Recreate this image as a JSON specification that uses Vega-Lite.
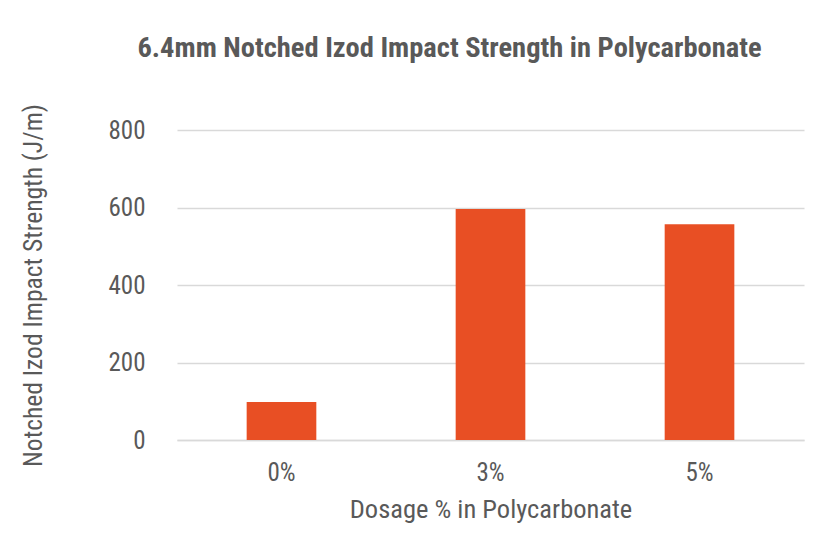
{
  "$schema": "https://vega.github.io/schema/vega-lite/v6.json",
  "autosize": {"type": "none"},
  "width": 627,
  "height": 310,
  "padding": {"left": 177, "top": 130, "right": 13, "bottom": 95},
  "background": "#ffffff",
  "config": {
    "font": "'Roboto Condensed', 'Liberation Sans'",
    "view": {"stroke": null}
  },
  "title": {
    "text": "6.4mm Notched Izod Impact Strength in Polycarbonate",
    "anchor": "middle",
    "dx": -41,
    "offset": 41,
    "fontSize": 28.5,
    "fontWeight": "bold",
    "color": "#595959",
    "font": "'Roboto Condensed', 'Liberation Sans'"
  },
  "data": {
    "values": [
      {"dosage": "0%", "strength": 98},
      {"dosage": "3%", "strength": 596},
      {"dosage": "5%", "strength": 557}
    ]
  },
  "mark": {"type": "bar", "color": "#E84F24"},
  "encoding": {
    "x": {
      "field": "dosage",
      "type": "nominal",
      "sort": null,
      "title": "Dosage % in Polycarbonate",
      "scale": {"paddingInner": 0.6667, "paddingOuter": 0.3333},
      "axis": {
        "labelAngle": 0,
        "labelFontSize": 25,
        "labelColor": "#595959",
        "labelPadding": 20,
        "ticks": false,
        "domainColor": "#D9D9D9",
        "domainWidth": 1.5,
        "titleFontSize": 26.5,
        "titleFontWeight": "normal",
        "titleColor": "#595959",
        "titlePadding": 11
      }
    },
    "y": {
      "field": "strength",
      "type": "quantitative",
      "title": "Notched Izod Impact Strength (J/m)",
      "scale": {"domain": [0, 800]},
      "axis": {
        "values": [0, 200, 400, 600, 800],
        "labelFontSize": 25,
        "labelColor": "#595959",
        "labelPadding": 32,
        "ticks": false,
        "domain": false,
        "gridColor": "#D9D9D9",
        "gridWidth": 1.5,
        "titleFontSize": 25.5,
        "titleFontWeight": "normal",
        "titleColor": "#595959",
        "titlePadding": 61
      }
    }
  }
}
